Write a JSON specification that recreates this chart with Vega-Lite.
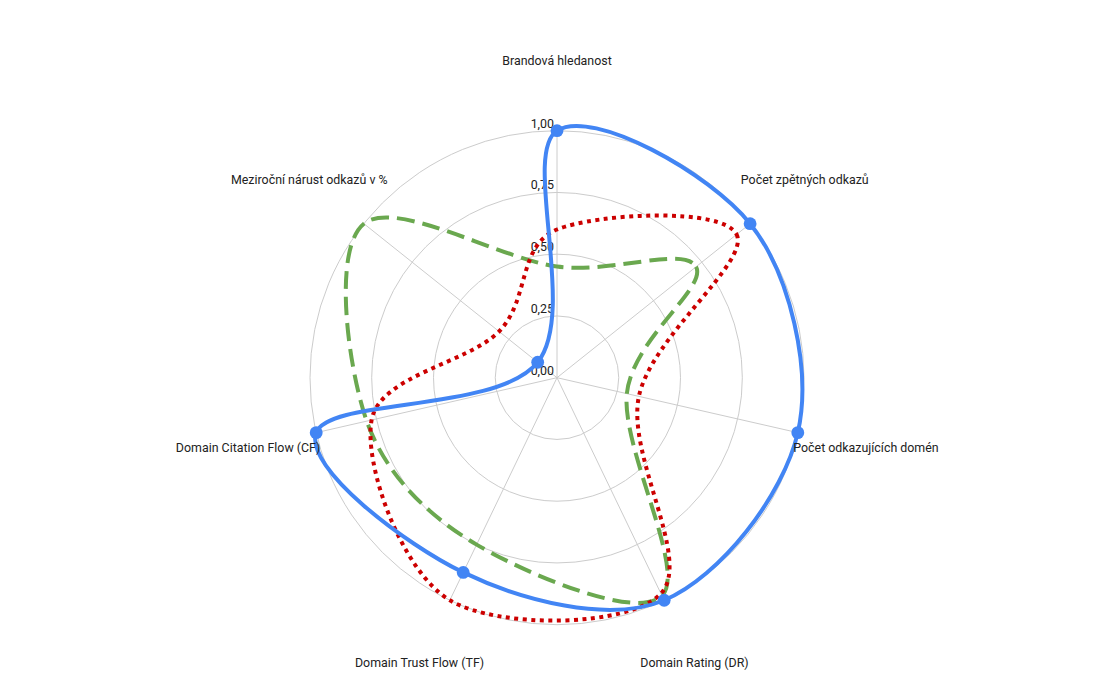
{
  "$schema": "https://vega.github.io/schema/vega-lite/v6.json",
  "width": 1114,
  "height": 691,
  "autosize": "none",
  "padding": 0,
  "config": {
    "view": {"stroke": null},
    "font": "Roboto",
    "locale": {"number": {"decimal": ",", "thousands": " ", "grouping": [3], "currency": ["", " Kč"]}}
  },
  "datasets": {
    "axes": [
      {"axis": "Brandová hledanost", "k": 0},
      {"axis": "Počet zpětných odkazů", "k": 1},
      {"axis": "Počet odkazujících domén", "k": 2},
      {"axis": "Domain Rating (DR)", "k": 3},
      {"axis": "Domain Trust Flow (TF)", "k": 4},
      {"axis": "Domain Citation Flow (CF)", "k": 5},
      {"axis": "Meziroční nárust odkazů v %", "k": 6}
    ],
    "levels": [
      {"level": 0}, {"level": 0.25}, {"level": 0.5}, {"level": 0.75}, {"level": 1}
    ],
    "scores": [
      {"series": "Řada 1", "axis": "Brandová hledanost", "value": 1.0},
      {"series": "Řada 1", "axis": "Počet zpětných odkazů", "value": 1.0},
      {"series": "Řada 1", "axis": "Počet odkazujících domén", "value": 1.0},
      {"series": "Řada 1", "axis": "Domain Rating (DR)", "value": 1.0},
      {"series": "Řada 1", "axis": "Domain Trust Flow (TF)", "value": 0.875},
      {"series": "Řada 1", "axis": "Domain Citation Flow (CF)", "value": 1.0},
      {"series": "Řada 1", "axis": "Meziroční nárust odkazů v %", "value": 0.1},
      {"series": "Řada 2", "axis": "Brandová hledanost", "value": 0.45},
      {"series": "Řada 2", "axis": "Počet zpětných odkazů", "value": 0.72},
      {"series": "Řada 2", "axis": "Počet odkazujících domén", "value": 0.29},
      {"series": "Řada 2", "axis": "Domain Rating (DR)", "value": 0.98},
      {"series": "Řada 2", "axis": "Domain Trust Flow (TF)", "value": 0.75},
      {"series": "Řada 2", "axis": "Domain Citation Flow (CF)", "value": 0.79},
      {"series": "Řada 2", "axis": "Meziroční nárust odkazů v %", "value": 1.0},
      {"series": "Řada 3", "axis": "Brandová hledanost", "value": 0.6},
      {"series": "Řada 3", "axis": "Počet zpětných odkazů", "value": 0.93},
      {"series": "Řada 3", "axis": "Počet odkazujících domén", "value": 0.34},
      {"series": "Řada 3", "axis": "Domain Rating (DR)", "value": 0.97},
      {"series": "Řada 3", "axis": "Domain Trust Flow (TF)", "value": 1.0},
      {"series": "Řada 3", "axis": "Domain Citation Flow (CF)", "value": 0.77},
      {"series": "Řada 3", "axis": "Meziroční nárust odkazů v %", "value": 0.3}
    ]
  },
  "layer": [
    {
      "data": {"name": "levels"},
      "transform": [{"filter": "datum.level > 0"}],
      "mark": {"type": "arc", "theta": 0, "theta2": 6.2832, "fillOpacity": 0, "stroke": "#cccccc", "strokeWidth": 1},
      "encoding": {
        "x": {"datum": 0, "type": "quantitative", "scale": {"domain": [-2.2551, 2.2551], "nice": false, "zero": false}, "axis": null},
        "y": {"datum": 0, "type": "quantitative", "scale": {"domain": [-1.2684, 1.5291], "nice": false, "zero": false}, "axis": null},
        "radius": {"field": "level", "type": "quantitative", "stack": null, "scale": {"type": "linear", "domain": [0, 1], "range": [0, 247], "zero": true}, "legend": null}
      }
    },
    {
      "data": {"name": "axes"},
      "transform": [
        {"calculate": "datum.k * 2 * PI / 7", "as": "a"},
        {"calculate": "sin(datum.a)", "as": "x"},
        {"calculate": "cos(datum.a)", "as": "y"}
      ],
      "mark": {"type": "rule", "color": "#cccccc", "strokeWidth": 1},
      "encoding": {
        "x": {"field": "x", "type": "quantitative", "axis": null},
        "y": {"field": "y", "type": "quantitative", "axis": null},
        "x2": {"datum": 0},
        "y2": {"datum": 0}
      }
    },
    {
      "data": {"name": "levels"},
      "mark": {"type": "text", "align": "right", "baseline": "alphabetic", "dx": -3, "dy": -3, "fontSize": 12.4, "color": "#222222", "font": "Roboto"},
      "encoding": {
        "x": {"datum": 0, "type": "quantitative", "axis": null},
        "y": {"field": "level", "type": "quantitative", "axis": null},
        "text": {"field": "level", "type": "quantitative", "format": ".2f"}
      }
    },
    {
      "data": {"name": "scores"},
      "transform": [
        {"filter": "datum.series === 'Řada 2'"},
        {"lookup": "axis", "from": {"data": {"name": "axes"}, "key": "axis", "fields": ["k"]}},
        {"calculate": "datum.k * 2 * PI / 7", "as": "a"},
        {"calculate": "datum.value * sin(datum.a)", "as": "x"},
        {"calculate": "datum.value * cos(datum.a)", "as": "y"}
      ],
      "mark": {"type": "line", "interpolate": "cardinal-closed", "stroke": "#6aa84f", "strokeWidth": 4, "strokeDash": [18, 8]},
      "encoding": {
        "x": {"field": "x", "type": "quantitative", "axis": null},
        "y": {"field": "y", "type": "quantitative", "axis": null},
        "order": {"field": "k", "type": "quantitative"}
      }
    },
    {
      "data": {"name": "scores"},
      "transform": [
        {"filter": "datum.series === 'Řada 3'"},
        {"lookup": "axis", "from": {"data": {"name": "axes"}, "key": "axis", "fields": ["k"]}},
        {"calculate": "datum.k * 2 * PI / 7", "as": "a"},
        {"calculate": "datum.value * sin(datum.a)", "as": "x"},
        {"calculate": "datum.value * cos(datum.a)", "as": "y"}
      ],
      "mark": {"type": "line", "interpolate": "cardinal-closed", "stroke": "#cc0000", "strokeWidth": 4, "strokeDash": [4, 4.5]},
      "encoding": {
        "x": {"field": "x", "type": "quantitative", "axis": null},
        "y": {"field": "y", "type": "quantitative", "axis": null},
        "order": {"field": "k", "type": "quantitative"}
      }
    },
    {
      "data": {"name": "scores"},
      "transform": [
        {"filter": "datum.series === 'Řada 1'"},
        {"lookup": "axis", "from": {"data": {"name": "axes"}, "key": "axis", "fields": ["k"]}},
        {"calculate": "datum.k * 2 * PI / 7", "as": "a"},
        {"calculate": "datum.value * sin(datum.a)", "as": "x"},
        {"calculate": "datum.value * cos(datum.a)", "as": "y"}
      ],
      "layer": [
        {
          "mark": {"type": "line", "interpolate": "cardinal-closed", "stroke": "#4285f4", "strokeWidth": 4},
          "encoding": {
            "x": {"field": "x", "type": "quantitative", "axis": null},
            "y": {"field": "y", "type": "quantitative", "axis": null},
            "order": {"field": "k", "type": "quantitative"}
          }
        },
        {
          "mark": {"type": "point", "filled": true, "size": 165, "color": "#4285f4", "opacity": 1},
          "encoding": {
            "x": {"field": "x", "type": "quantitative", "axis": null},
            "y": {"field": "y", "type": "quantitative", "axis": null}
          }
        }
      ]
    },
    {
      "data": {"name": "axes"},
      "transform": [
        {"calculate": "datum.k * 2 * PI / 7", "as": "a"},
        {"calculate": "1.283 * sin(datum.a)", "as": "x"},
        {"calculate": "1.283 * cos(datum.a)", "as": "y"}
      ],
      "mark": {"type": "text", "align": "center", "baseline": "middle", "fontSize": 12.4, "color": "#222222", "font": "Roboto"},
      "encoding": {
        "x": {"field": "x", "type": "quantitative", "axis": null},
        "y": {"field": "y", "type": "quantitative", "axis": null},
        "text": {"field": "axis", "type": "nominal"}
      }
    }
  ]
}
